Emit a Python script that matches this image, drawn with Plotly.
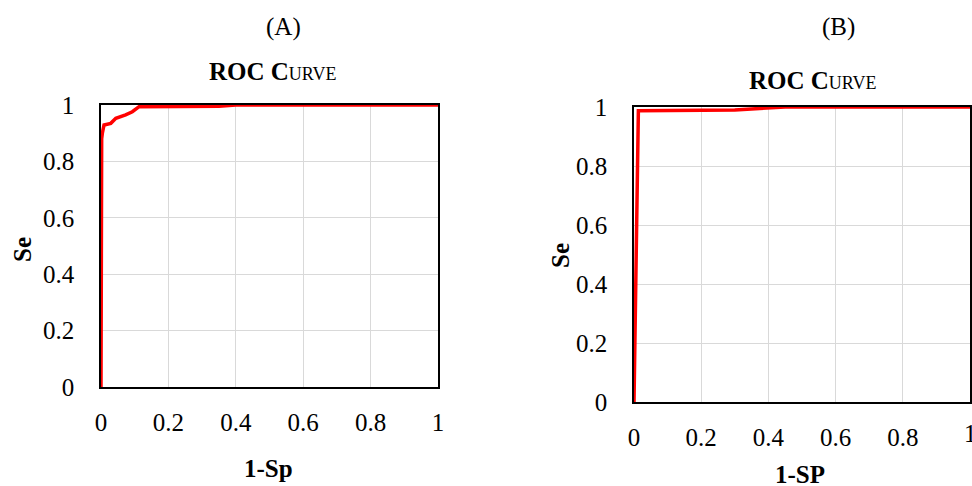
import plotly.graph_objects as go

# ROC curve A (1-Sp, Se)
a_fpr = [0.0, 0.0, 0.002, 0.004, 0.009, 0.029, 0.044, 0.073, 0.093, 0.113, 0.35, 0.40, 1.0]
a_se  = [0.0, 0.60, 0.88, 0.90, 0.929, 0.935, 0.953, 0.965, 0.976, 0.994, 0.996, 1.0, 1.0]
# ROC curve B (1-SP, Se)
b_fpr = [0.0, 0.013, 0.30, 0.45, 1.0]
b_se  = [0.0, 0.987, 0.99, 1.0, 1.0]

ticks = [0, 0.2, 0.4, 0.6, 0.8, 1]
tick_text = ["0", "0.2", "0.4", "0.6", "0.8", "1"]

FONT = "Liberation Serif"
FS = 25
W, H = 972, 486

fig = go.Figure()
fig.add_trace(go.Scatter(x=a_fpr, y=a_se, mode="lines", line=dict(color="#ff0000", width=3.5),
                         xaxis="x", yaxis="y", cliponaxis=False, showlegend=False, hoverinfo="skip"))
fig.add_trace(go.Scatter(x=b_fpr, y=b_se, mode="lines", line=dict(color="#ff0000", width=3.5),
                         xaxis="x2", yaxis="y2", cliponaxis=False, showlegend=False, hoverinfo="skip"))

def px(v):
    return v / W

def py(v):
    return 1 - v / H

axis_common = dict(range=[0, 1], tickvals=ticks, ticktext=tick_text, showgrid=True,
                   gridcolor="#d9d9d9", gridwidth=1.3, showline=True, linecolor="black",
                   linewidth=1.5, mirror=True, zeroline=False, ticks="outside",
                   tickcolor="rgba(0,0,0,0)", tickfont=dict(family=FONT, size=FS, color="black"),
                   layer="below traces", fixedrange=True, automargin=False)

fig.update_layout(
    width=W, height=H, margin=dict(l=0, r=0, t=0, b=0, pad=0),
    paper_bgcolor="white", plot_bgcolor="white",
    xaxis=dict(domain=[px(101), px(438)], anchor="y", ticklen=12, **axis_common),
    yaxis=dict(domain=[py(387), py(105)], anchor="x", ticklen=20, **axis_common),
    xaxis2=dict(domain=[px(634), px(970)], anchor="y2", ticklen=12, **axis_common),
    yaxis2=dict(domain=[py(402), py(107)], anchor="x2", ticklen=20, **axis_common),
)

title_html = "<b>ROC C</b><span style='font-size:18px'>URVE</span>"
ann = [
    dict(text="(A)", x=px(283), y=py(27)),
    dict(text=title_html, x=px(272), y=py(71)),
    dict(text="<b>1-Sp</b>", x=px(268), y=py(468)),
    dict(text="<b>Se</b>", x=px(22), y=py(250), textangle=-90),
    dict(text="(B)", x=px(838), y=py(27)),
    dict(text=title_html, x=px(812), y=py(81)),
    dict(text="<b>1-SP</b>", x=px(800), y=py(474)),
    dict(text="<b>Se</b>", x=px(560), y=py(256), textangle=-90),
]
for a in ann:
    fig.add_annotation(xref="paper", yref="paper", showarrow=False,
                       xanchor="center", yanchor="middle",
                       font=dict(family=FONT, size=FS, color="black"), **a)

# last x tick label of panel B (partly beyond the page edge, as in the original)
fig.add_annotation(xref="x2", yref="paper", x=ticks[-1], y=py(433), text=tick_text[-1],
                   showarrow=False, xanchor="center", yanchor="middle",
                   font=dict(family=FONT, size=FS, color="black"))

fig.write_html("out.html", config={"displayModeBar": False},
               post_script="document.body.style.margin='0';document.body.style.overflow='hidden';")
